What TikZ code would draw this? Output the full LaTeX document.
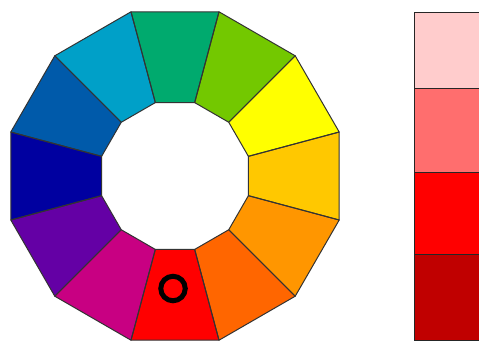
\documentclass[tikz,border=0pt]{standalone}
\usetikzlibrary{calc}
\begin{document}
\begin{tikzpicture}[x=1pt,y=-1pt,
  seg/.style={draw=black!80,line width=1pt,line join=round},
  swatch/.style={draw=black!85,line width=1.2pt}]
\useasboundingbox (0,0) rectangle (479,341);
\clip (0,0) rectangle (479,341);
\definecolor{c0}{RGB}{0,170,110}
\definecolor{c1}{RGB}{115,200,0}
\definecolor{c2}{RGB}{255,255,0}
\definecolor{c3}{RGB}{255,200,0}
\definecolor{c4}{RGB}{255,150,0}
\definecolor{c5}{RGB}{255,102,0}
\definecolor{c6}{RGB}{255,0,0}
\definecolor{c7}{RGB}{200,0,130}
\definecolor{c8}{RGB}{100,0,165}
\definecolor{c9}{RGB}{0,0,160}
\definecolor{c10}{RGB}{0,90,170}
\definecolor{c11}{RGB}{0,160,200}
\definecolor{s1}{RGB}{255,204,204}
\definecolor{s2}{RGB}{255,110,110}
\definecolor{s3}{RGB}{255,0,0}
\definecolor{s4}{RGB}{192,0,0}
\coordinate (ctr) at (175,176);
\foreach \k in {0,...,11}{
  \pgfmathsetmacro{\a}{90-30*\k}
  \pgfmathsetmacro{\aa}{\a+15}
  \pgfmathsetmacro{\ab}{\a-15}
  \fill[c\k] ($(ctr)+(\aa:170 and -170)$) -- ($(ctr)+(\ab:170 and -170)$) -- ($(ctr)+(\ab:76 and -76)$) -- ($(ctr)+(\aa:76 and -76)$) -- cycle;
}
\foreach \k in {0,...,11}{
  \pgfmathsetmacro{\a}{90-30*\k}
  \pgfmathsetmacro{\aa}{\a+15}
  \pgfmathsetmacro{\ab}{\a-15}
  \draw[seg] ($(ctr)+(\aa:170 and -170)$) -- ($(ctr)+(\ab:170 and -170)$) -- ($(ctr)+(\ab:76 and -76)$) -- ($(ctr)+(\aa:76 and -76)$) -- cycle;
}
\node[circle,draw=black,line width=5pt,minimum size=24.5pt,inner sep=0pt] (mark) at (173,288.5) {};
\node[swatch,fill=s1,minimum width=80pt,minimum height=76pt,anchor=north west,inner sep=0pt] (sw1) at (413.5,12) {};
\node[swatch,fill=s2,minimum width=80pt,minimum height=84pt,anchor=north west,inner sep=0pt] (sw2) at (413.5,88) {};
\node[swatch,fill=s3,minimum width=80pt,minimum height=82pt,anchor=north west,inner sep=0pt] (sw3) at (413.5,172) {};
\node[swatch,fill=s4,minimum width=80pt,minimum height=86pt,anchor=north west,inner sep=0pt] (sw4) at (413.5,254) {};
\end{tikzpicture}
\end{document}
